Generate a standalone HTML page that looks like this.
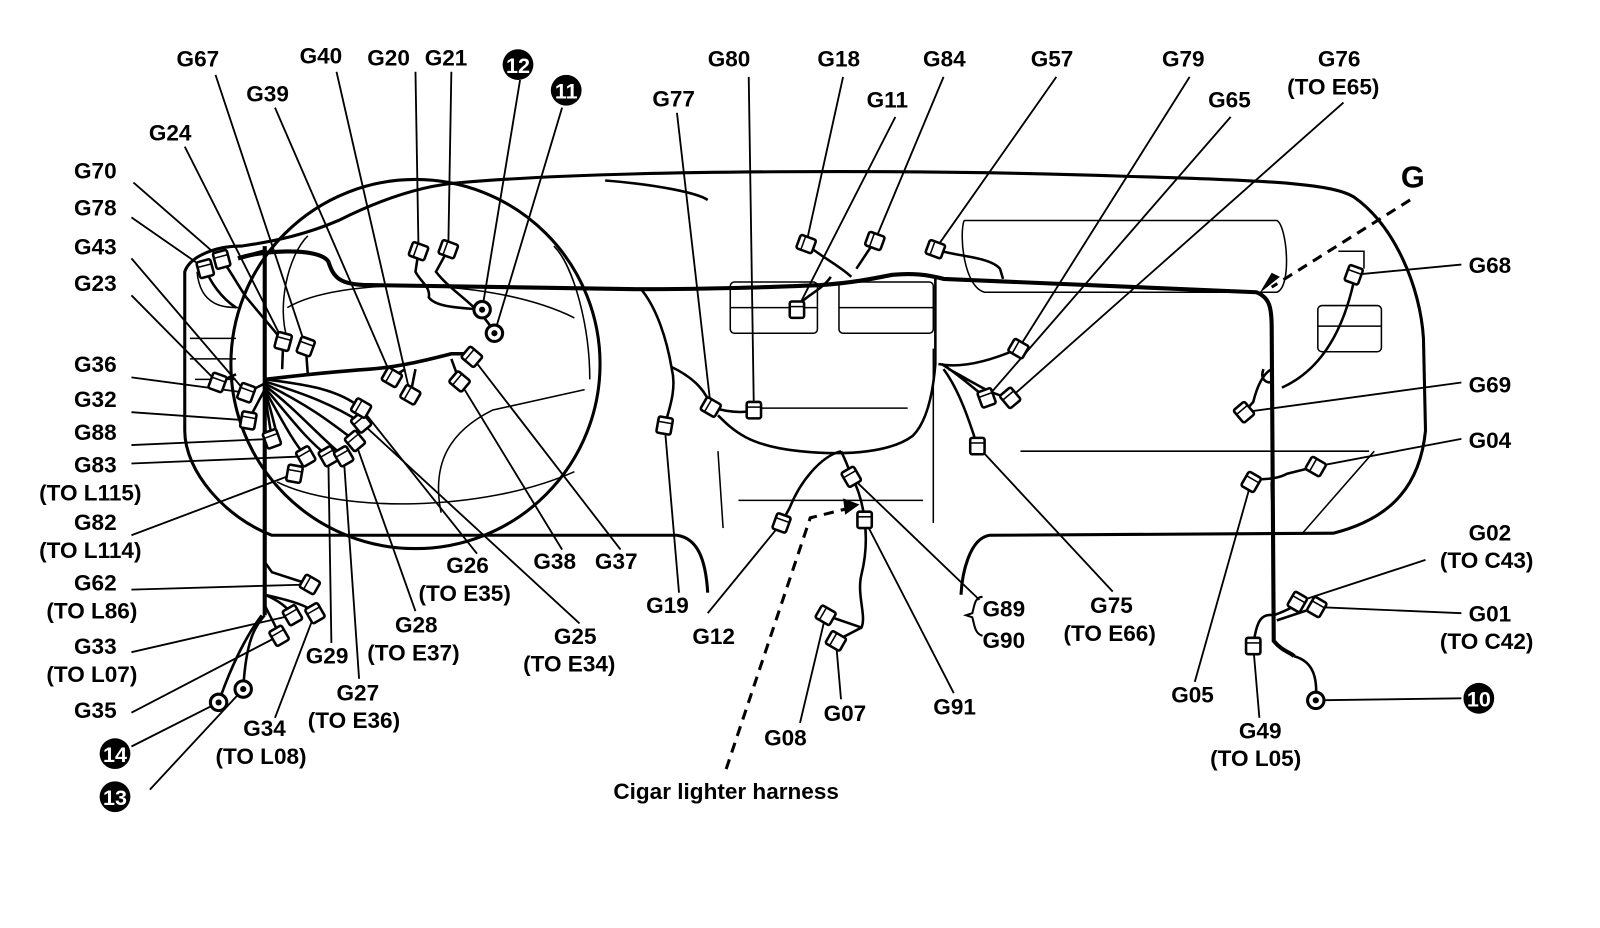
<!DOCTYPE html>
<html><head><meta charset="utf-8"><style>
html,body{margin:0;padding:0;background:#fff;}
svg{display:block;}
text{font-family:"Liberation Sans",sans-serif;font-size:22px;font-weight:bold;fill:#000;}
</style></head><body>
<svg width="1600" height="928" viewBox="0 0 1560 905" xmlns="http://www.w3.org/2000/svg">
<defs>
<g id="c"><rect x="-7" y="-8" width="14" height="16" rx="2" fill="#fff" stroke="#000" stroke-width="2.5"/><line x1="-7" y1="-3" x2="7" y2="-3" stroke="#000" stroke-width="1.5"/></g>
<g id="r"><circle r="8" fill="#fff" stroke="#000" stroke-width="3"/><circle r="3" fill="#000"/></g>
</defs>
<g fill="none" stroke="#000">
<path d="M450 178 C600 165 900 165 1100 172 C1250 176 1300 180 1320 192 C1360 220 1385 280 1388 330 L1390 420 C1385 470 1360 505 1300 520 L965 522 C945 525 938 560 937 580" stroke-width="3"/>
<path d="M690 578 C688 545 680 525 660 522 L265 522 C220 505 180 460 180 420 L180 265 C185 250 210 240 235 240 C270 235 300 228 330 215 C380 190 420 180 450 178" stroke-width="3"/>
<path d="M590 176 C640 180 680 188 690 195" stroke-width="2.5"/>
<circle cx="405" cy="355" r="180" stroke-width="3"/>
<path d="M280 300 C330 270 480 270 560 310" stroke-width="1.5"/>
<path d="M270 470 C330 500 470 500 560 460" stroke-width="1.5"/>
<path d="M430 500 C420 450 440 420 480 400 L570 380" stroke-width="1.5"/>
<path d="M300 230 C280 250 270 300 280 330" stroke-width="1.5"/>
<path d="M540 240 C560 260 575 320 575 370" stroke-width="1.5"/>
<path d="M185 330 L230 330 M185 350 L230 350 M190 370 L230 370" stroke-width="1.5"/>
<path d="M192 265 C195 300 220 300 235 300" stroke-width="1.5"/>
<rect x="712" y="275" width="85" height="50" rx="4" stroke-width="1.5"/>
<rect x="818" y="275" width="92" height="50" rx="4" stroke-width="1.5"/>
<path d="M712 300 L797 300 M818 300 L910 300" stroke-width="1.5"/>
<path d="M940 215 L1245 215 C1255 220 1260 280 1245 285 L960 285 C940 280 935 230 940 215" stroke-width="1.5"/>
<rect x="1285" y="298" width="62" height="45" rx="4" stroke-width="1.5"/>
<path d="M1285 318 L1347 318 M1305 245 L1330 245 L1330 262" stroke-width="1.5"/>
<path d="M995 440 L1335 440 M720 488 L900 488 M740 398 L885 398 M1270 520 L1340 440" stroke-width="1.5"/>
<path d="M700 440 L705 515 M910 340 L910 510" stroke-width="1.5"/>
<path d="M232 252 C250 245 310 240 320 255 C325 270 330 278 360 278 L620 282 C700 282 750 280 800 278 C830 276 850 272 870 268 C890 266 905 268 920 272 L1225 285 C1238 290 1240 300 1240 320 L1242 625 C1250 635 1258 636 1262 640" stroke-width="4"/>
<path d="M258 240 L258 600 M232 252 L258 245" stroke-width="4"/>
<path d="M258 370 C300 365 330 362 360 360 C390 358 420 350 440 345 L460 345" stroke-width="3.5"/>
<g stroke-width="2.5">
<path d="M258 370 C300 375 330 380 352 398"/>
<path d="M258 372 C300 385 325 395 352 412"/>
<path d="M258 374 C300 395 320 410 346 430"/>
<path d="M258 376 C290 400 310 425 335 445"/>
<path d="M258 378 C285 410 300 430 320 445"/>
<path d="M258 380 C275 410 285 430 298 445"/>
<path d="M258 382 C265 400 268 420 272 430"/>
<path d="M258 384 L265 428"/>
<path d="M258 374 L240 383 M258 380 L242 410"/>
</g>
<g stroke-width="2.5">
<path d="M408 245 L405 265 C410 275 420 280 418 290 C425 300 450 300 470 302"/>
<path d="M437 243 L425 265 C440 285 470 300 482 325"/>
<path d="M625 282 C640 300 650 330 655 360 C660 380 652 400 648 415"/>
<path d="M655 358 C680 370 690 385 693 397"/>
<path d="M693 397 C710 402 725 403 735 400"/>
<path d="M700 405 C715 420 730 435 780 440 C830 445 870 440 890 425 C905 410 910 380 912 355 L912 272"/>
<path d="M820 440 C800 445 780 470 770 495 L762 510"/>
<path d="M820 440 C825 450 828 458 830 465 C840 480 850 520 840 560 C835 580 845 600 840 612 L815 625"/>
<path d="M840 612 L805 600"/>
<path d="M786 238 C800 250 820 260 830 270"/>
<path d="M853 235 L835 262"/>
<path d="M810 270 C800 285 780 290 777 302"/>
<path d="M912 243 C930 250 965 250 975 262 L978 272"/>
<path d="M915 355 C940 360 970 350 993 340"/>
<path d="M918 355 C935 365 950 380 962 388 M925 360 C945 370 965 385 985 388 M920 360 C935 380 945 410 953 435"/>
<path d="M1240 360 C1230 365 1225 380 1222 392 L1213 402 M1232 360 C1228 370 1236 375 1240 372"/>
<path d="M1250 378 C1290 360 1310 320 1320 275"/>
<path d="M1220 470 C1225 465 1240 470 1255 462 L1283 455"/>
<path d="M1240 470 C1240 490 1242 500 1242 520"/>
<path d="M1242 600 C1230 598 1225 605 1222 630 M1242 600 C1255 595 1262 592 1265 587 M1245 605 L1284 592"/>
<path d="M1262 640 C1280 645 1285 660 1283 683"/>
<path d="M258 548 L265 558 L302 570 M258 580 C270 585 280 592 285 600 M258 580 C280 585 300 590 307 598 M258 600 C250 610 240 620 237 672 M255 600 C240 620 225 650 213 685 M258 590 C265 605 270 612 272 620"/>
<path d="M216 253 C225 265 230 275 240 290 L276 333 M200 262 C205 275 215 290 230 300"/>
<path d="M212 373 L230 365 M298 338 L300 365 M276 333 L275 360"/>
<path d="M382 368 L395 360 M400 385 L405 360 M448 372 L440 350"/>
</g>
<g stroke-width="1.8">
<path d="M210 73 L298 338"/>
<path d="M328 70 L400 385"/>
<path d="M405 70 L408 245 M440 70 L437 243"/>
<path d="M507 78 L470 302 M548 105 L482 325"/>
<path d="M268 105 L382 368"/>
<path d="M180 143 L276 333"/>
<path d="M130 178 L216 253"/>
<path d="M128 212 L200 262"/>
<path d="M128 252 L240 383"/>
<path d="M128 288 L212 373"/>
<path d="M128 368 L240 383"/>
<path d="M128 402 L242 410"/>
<path d="M128 434 L265 428"/>
<path d="M128 452 L298 445"/>
<path d="M128 522 L287 462"/>
<path d="M128 575 L302 570"/>
<path d="M128 636 L285 600"/>
<path d="M128 695 L272 620"/>
<path d="M128 728 L213 685"/>
<path d="M146 770 L237 672"/>
<path d="M268 700 L307 598"/>
<path d="M323 627 L320 445"/>
<path d="M350 662 L335 445"/>
<path d="M405 596 L346 430"/>
<path d="M465 540 L352 398"/>
<path d="M565 608 L352 412"/>
<path d="M548 536 L448 372"/>
<path d="M605 536 L460 348"/>
<path d="M662 578 L648 415"/>
<path d="M690 598 L762 510"/>
<path d="M660 110 L693 397"/>
<path d="M730 75 L735 400"/>
<path d="M822 75 L786 238"/>
<path d="M873 114 L777 302"/>
<path d="M920 75 L853 235"/>
<path d="M1030 75 L912 243"/>
<path d="M1160 75 L993 340"/>
<path d="M1200 114 L962 388"/>
<path d="M1310 100 L985 388"/>
<path d="M1425 258 L1320 268"/>
<path d="M1425 373 L1213 402"/>
<path d="M1425 428 L1283 455"/>
<path d="M1390 546 L1265 587"/>
<path d="M1425 598 L1284 592"/>
<path d="M1425 681 L1283 683"/>
<path d="M1165 665 L1220 470"/>
<path d="M1228 700 L1222 630"/>
<path d="M1085 577 L953 435"/>
<path d="M955 585 L830 465"/>
<path d="M930 676 L843 507"/>
<path d="M820 682 L815 625"/>
<path d="M780 705 L805 600"/>
</g>
<path d="M1375 195 L1240 280" stroke-width="3" stroke-dasharray="10,7"/>
<path d="M708 750 L790 505 L830 495" stroke-width="3" stroke-dasharray="10,7"/>
<path d="M958 582 C950 582 950 592 948 598 L942 600 L948 602 C950 608 950 618 958 620" stroke-width="2"/>
</g>
<polygon points="1228,286 1248,270 1240,266" fill="#000"/>
<polygon points="838,492 822,486 824,502" fill="#000"/>
<g>
<use href="#c" transform="translate(298,338) rotate(20)"/>
<use href="#c" transform="translate(276,333) rotate(15)"/>
<use href="#c" transform="translate(216,253) rotate(-15)"/>
<use href="#c" transform="translate(200,262) rotate(-15)"/>
<use href="#c" transform="translate(212,373) rotate(20)"/>
<use href="#c" transform="translate(240,383) rotate(20)"/>
<use href="#c" transform="translate(242,410) rotate(10)"/>
<use href="#c" transform="translate(265,428) rotate(-20)"/>
<use href="#c" transform="translate(298,445) rotate(-30)"/>
<use href="#c" transform="translate(287,462) rotate(10)"/>
<use href="#c" transform="translate(320,445) rotate(-30)"/>
<use href="#c" transform="translate(335,445) rotate(-30)"/>
<use href="#c" transform="translate(346,430) rotate(-40)"/>
<use href="#c" transform="translate(352,412) rotate(-40)"/>
<use href="#c" transform="translate(352,398) rotate(-60)"/>
<use href="#c" transform="translate(382,368) rotate(-60)"/>
<use href="#c" transform="translate(400,385) rotate(-60)"/>
<use href="#c" transform="translate(408,245) rotate(-70)"/>
<use href="#c" transform="translate(437,243) rotate(-70)"/>
<use href="#c" transform="translate(460,348) rotate(-50)"/>
<use href="#c" transform="translate(448,372) rotate(-50)"/>
<use href="#c" transform="translate(302,570) rotate(-60)"/>
<use href="#c" transform="translate(285,600) rotate(-30)"/>
<use href="#c" transform="translate(307,598) rotate(-30)"/>
<use href="#c" transform="translate(272,620) rotate(-30)"/>
<use href="#c" transform="translate(648,415) rotate(10)"/>
<use href="#c" transform="translate(762,510) rotate(20)"/>
<use href="#c" transform="translate(693,397) rotate(-60)"/>
<use href="#c" transform="translate(735,400) rotate(0)"/>
<use href="#c" transform="translate(786,238) rotate(-70)"/>
<use href="#c" transform="translate(853,235) rotate(-70)"/>
<use href="#c" transform="translate(777,302) rotate(0)"/>
<use href="#c" transform="translate(912,243) rotate(-70)"/>
<use href="#c" transform="translate(993,340) rotate(-60)"/>
<use href="#c" transform="translate(962,388) rotate(-20)"/>
<use href="#c" transform="translate(985,388) rotate(-40)"/>
<use href="#c" transform="translate(953,435) rotate(0)"/>
<use href="#c" transform="translate(830,465) rotate(-30)"/>
<use href="#c" transform="translate(843,507) rotate(0)"/>
<use href="#c" transform="translate(815,625) rotate(-60)"/>
<use href="#c" transform="translate(805,600) rotate(-60)"/>
<use href="#c" transform="translate(1213,402) rotate(-40)"/>
<use href="#c" transform="translate(1320,268) rotate(20)"/>
<use href="#c" transform="translate(1283,455) rotate(-60)"/>
<use href="#c" transform="translate(1220,470) rotate(30)"/>
<use href="#c" transform="translate(1265,587) rotate(30)"/>
<use href="#c" transform="translate(1284,592) rotate(30)"/>
<use href="#c" transform="translate(1222,630) rotate(0)"/>
<use href="#r" transform="translate(470,302)"/>
<use href="#r" transform="translate(482,325)"/>
<use href="#r" transform="translate(213,685)"/>
<use href="#r" transform="translate(237,672)"/>
<use href="#r" transform="translate(1283,683)"/>
</g>
<g>
<circle cx="505" cy="63" r="15" fill="#000"/><text x="505" y="71" text-anchor="middle" style="fill:#fff;font-size:21px">12</text>
<circle cx="552" cy="88" r="15" fill="#000"/><text x="552" y="96" text-anchor="middle" style="fill:#fff;font-size:21px">11</text>
<circle cx="112" cy="735" r="15" fill="#000"/><text x="112" y="743" text-anchor="middle" style="fill:#fff;font-size:21px">14</text>
<circle cx="112" cy="777" r="15" fill="#000"/><text x="112" y="785" text-anchor="middle" style="fill:#fff;font-size:21px">13</text>
<circle cx="1442" cy="681" r="15" fill="#000"/><text x="1442" y="689" text-anchor="middle" style="fill:#fff;font-size:21px">10</text>
</g>
<g>
<text x="172" y="65">G67</text>
<text x="292" y="62">G40</text>
<text x="358" y="64">G20</text>
<text x="414" y="64">G21</text>
<text x="240" y="99">G39</text>
<text x="145" y="137">G24</text>
<text x="72" y="174">G70</text>
<text x="72" y="210">G78</text>
<text x="72" y="248">G43</text>
<text x="72" y="284">G23</text>
<text x="72" y="363">G36</text>
<text x="72" y="397">G32</text>
<text x="72" y="429">G88</text>
<text x="72" y="461">G83</text>
<text x="38" y="488">(TO L115)</text>
<text x="72" y="517">G82</text>
<text x="38" y="544">(TO L114)</text>
<text x="72" y="576">G62</text>
<text x="45" y="603">(TO L86)</text>
<text x="72" y="638">G33</text>
<text x="45" y="665">(TO L07)</text>
<text x="72" y="700">G35</text>
<text x="237" y="718">G34</text>
<text x="210" y="745">(TO L08)</text>
<text x="298" y="647">G29</text>
<text x="328" y="683">G27</text>
<text x="300" y="710">(TO E36)</text>
<text x="385" y="617">G28</text>
<text x="358" y="644">(TO E37)</text>
<text x="435" y="559">G26</text>
<text x="408" y="586">(TO E35)</text>
<text x="520" y="555">G38</text>
<text x="580" y="555">G37</text>
<text x="540" y="628">G25</text>
<text x="510" y="655">(TO E34)</text>
<text x="630" y="598">G19</text>
<text x="675" y="628">G12</text>
<text x="636" y="104">G77</text>
<text x="690" y="65">G80</text>
<text x="797" y="65">G18</text>
<text x="845" y="105">G11</text>
<text x="900" y="65">G84</text>
<text x="1005" y="65">G57</text>
<text x="1133" y="65">G79</text>
<text x="1178" y="105">G65</text>
<text x="1285" y="65">G76</text>
<text x="1255" y="92">(TO E65)</text>
<text x="1366" y="183" style="font-size:30px">G</text>
<text x="1432" y="266">G68</text>
<text x="1432" y="383">G69</text>
<text x="1432" y="437">G04</text>
<text x="1432" y="527">G02</text>
<text x="1404" y="554">(TO C43)</text>
<text x="1432" y="606">G01</text>
<text x="1404" y="633">(TO C42)</text>
<text x="1142" y="685">G05</text>
<text x="1208" y="720">G49</text>
<text x="1180" y="747">(TO L05)</text>
<text x="1063" y="598">G75</text>
<text x="1037" y="625">(TO E66)</text>
<text x="958" y="601">G89</text>
<text x="958" y="632">G90</text>
<text x="910" y="697">G91</text>
<text x="803" y="703">G07</text>
<text x="745" y="727">G08</text>
<text x="598" y="779">Cigar lighter harness</text>
</g>
</svg>
</body></html>
